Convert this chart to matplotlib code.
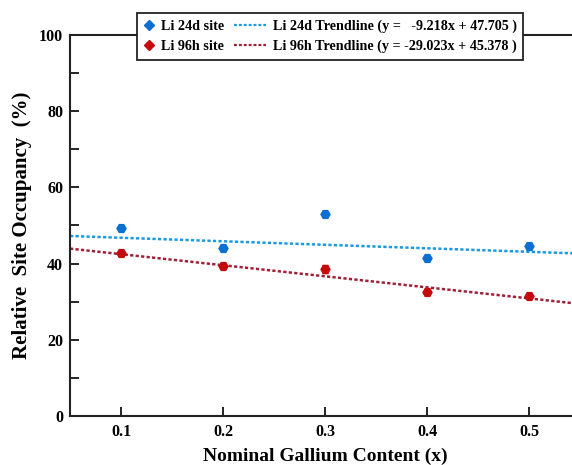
import matplotlib
matplotlib.use("Agg")
import matplotlib.pyplot as plt
from matplotlib.lines import Line2D
from matplotlib.legend_handler import HandlerLine2D
import numpy as np

x = [0.1, 0.2, 0.3, 0.4, 0.5]
li24d = [49.3, 44.0, 52.9, 41.6, 44.5]
li24d_err = [0.6, 0.6, 0.6, 0.6, 0.6]
li96h = [42.7, 39.4, 38.6, 32.6, 31.6]
li96h_err = [0.6, 0.6, 1.0, 0.8, 0.7]
fit24 = (-9.218, 47.705)
fit96 = (-29.023, 45.378)
xticks = [0.1, 0.2, 0.3, 0.4, 0.5]
yticks = [0, 20, 40, 60, 80, 100]

plt.rcParams['font.family'] = ['Liberation Serif', 'DejaVu Serif']
plt.rcParams['font.weight'] = 'bold'

fig = plt.figure(figsize=(5.72, 4.65), dpi=100)
W, H = 572, 465
ax = fig.add_axes([70 / W, (H - 416) / H, 510 / W, 381 / H])

xl = np.array([0.05, 0.55])
c_blue = '#0b6fd1'
c_red = '#c40a0a'
c_tb = '#1a9ae0'
c_tr = '#a02038'
dash = (0, (1.3, 0.9))
ax.plot(xl, fit24[0] * xl + fit24[1], ls=dash, color=c_tb, lw=1.8, zorder=2)
ax.plot(xl, fit96[0] * xl + fit96[1], ls=dash, color=c_tr, lw=1.8, zorder=2)
ax.errorbar(x, li24d, yerr=li24d_err, fmt='H', color=c_blue, ms=6.5, capsize=2,
            elinewidth=1, capthick=1, zorder=3)
ax.errorbar(x, li96h, yerr=li96h_err, fmt='H', color=c_red, ms=6.5, capsize=2,
            elinewidth=1, capthick=1, zorder=3)

ax.set_xlim(0.05, 0.55)
ax.set_ylim(0, 100)
ax.set_xticks(xticks)
ax.set_xticklabels([f'{v:.1f}' for v in xticks])
ax.set_yticks(yticks)
ax.set_yticks([10, 30, 50, 70, 90], minor=True)
ax.tick_params(axis='both', which='both', direction='in', labelsize=11.5, width=1.2)
ax.tick_params(axis='both', which='major', length=6.5)
ax.tick_params(axis='x', which='major', pad=6)
ax.tick_params(axis='y', which='major', pad=5)
ax.tick_params(axis='y', which='minor', length=6.5)
for lab in ax.get_xticklabels() + ax.get_yticklabels():
    lab.set_fontweight('bold')
for s in ax.spines.values():
    s.set_linewidth(1.5)
    s.set_color('#222222')

ax.set_xlabel('Nominal Gallium Content (x)', fontsize=14, fontweight='bold', labelpad=5)
ax.set_ylabel('Relative  Site Occupancy  (%)', fontsize=15, fontweight='bold', labelpad=5)


class MarkerHandler(HandlerLine2D):
    def legend_artist(self, legend, orig_handle, fontsize, handlebox):
        handlebox.width = 8
        return super().legend_artist(legend, orig_handle, fontsize, handlebox)

    def get_xdata(self, legend, xdescent, ydescent, width, height, fontsize):
        xd = np.array([-xdescent, -xdescent + width])
        return xd, np.array([-xdescent + 0.2 * width])


h1 = Line2D([], [], ls='none', marker='D', color=c_blue, ms=5)
h2 = Line2D([], [], ls='none', marker='D', color=c_red, ms=5)
h3 = Line2D([], [], ls=(0, (1.3, 0.9)), color=c_tb, lw=1.6)
h4 = Line2D([], [], ls=(0, (1.3, 0.9)), color=c_tr, lw=1.6)
leg = fig.legend([h1, h2, h3, h4],
                 ['Li 24d site', 'Li 96h site',
                  'Li 24d Trendline (y =   -9.218x + 47.705 )',
                  'Li 96h Trendline (y = -29.023x + 45.378 )'],
                 ncol=2, loc='center', bbox_to_anchor=(330 / W, (H - 36.5) / H),
                 handler_map={h1: MarkerHandler(), h2: MarkerHandler()},
                 prop={'family': 'Liberation Serif', 'weight': 'bold', 'size': 10.2},
                 frameon=True, fancybox=False, edgecolor='#222222', framealpha=1,
                 handlelength=2.3, handletextpad=0.45, columnspacing=0.7,
                 borderpad=0.45, labelspacing=0.45, borderaxespad=0)
leg.get_frame().set_linewidth(1.3)
leg.set_zorder(10)

fig.savefig('out.png', dpi=100)
